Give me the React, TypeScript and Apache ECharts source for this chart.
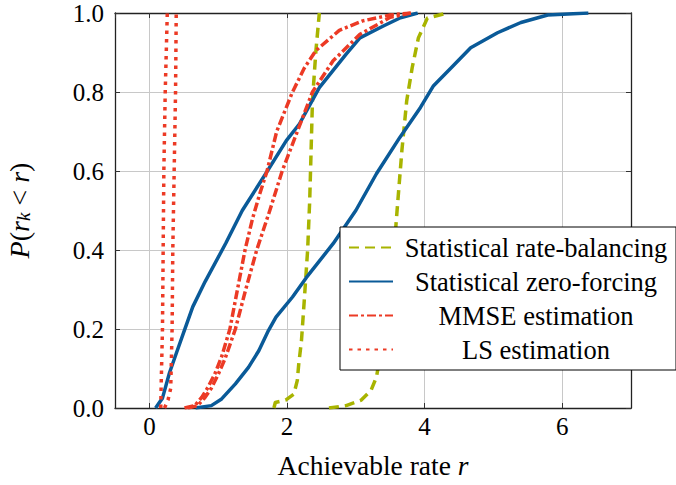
import React, { useEffect, useRef } from "react";
import * as echarts from "echarts";

// Statistical rate-balancing (two CDF curves)
const rbLow: number[][] = [
  [1.81, 0], [1.83, 0.014], [1.98, 0.02], [2.1, 0.035], [2.15, 0.07], [2.17, 0.11],
  [2.21, 0.17], [2.25, 0.27], [2.3, 0.4], [2.33, 0.525], [2.35, 0.65], [2.37, 0.778],
  [2.42, 0.904], [2.47, 1.0],
];
const rbHigh: number[][] = [
  [2.61, 0], [2.86, 0.006], [3.08, 0.02], [3.22, 0.044], [3.3, 0.078], [3.35, 0.128],
  [3.45, 0.22], [3.52, 0.32], [3.56, 0.41], [3.6, 0.5], [3.67, 0.652], [3.74, 0.778],
  [3.82, 0.862], [3.91, 0.937], [4.04, 0.987], [4.33, 1.0],
];
// Statistical zero-forcing
const zfLow: number[][] = [
  [0.09, 0], [0.19, 0.025], [0.29, 0.088], [0.39, 0.138], [0.51, 0.197], [0.63, 0.256],
  [0.81, 0.32], [1.11, 0.417], [1.35, 0.5], [1.69, 0.593], [1.99, 0.677], [2.18, 0.719],
  [2.47, 0.811], [2.86, 0.896], [3.06, 0.937], [3.4, 0.967], [3.65, 0.988], [3.9, 1.0],
];
const zfHigh: number[][] = [
  [0.67, 0], [0.9, 0.006], [1.05, 0.023], [1.25, 0.061], [1.44, 0.103], [1.59, 0.145],
  [1.73, 0.196], [1.84, 0.23], [2.08, 0.281], [2.28, 0.33], [2.67, 0.416], [3.0, 0.5],
  [3.3, 0.593], [3.64, 0.685], [3.94, 0.761], [4.13, 0.816], [4.38, 0.86], [4.67, 0.912],
  [5.06, 0.95], [5.4, 0.976], [5.79, 0.995], [6.38, 1.0],
];
// MMSE estimation
const mmseLow: number[][] = [
  [0.51, 0], [0.66, 0.006], [0.76, 0.027], [0.85, 0.052], [0.95, 0.086], [1.05, 0.13],
  [1.17, 0.2], [1.28, 0.3], [1.39, 0.4], [1.5, 0.48], [1.6, 0.54], [1.71, 0.6],
  [1.85, 0.7], [2.08, 0.8], [2.25, 0.86], [2.42, 0.905], [2.76, 0.956], [3.1, 0.98],
  [3.5, 0.995], [3.8, 1.0],
];
const mmseHigh: number[][] = [
  [0.56, 0], [0.7, 0.006], [0.8, 0.025], [0.9, 0.05], [1.0, 0.085], [1.1, 0.125],
  [1.25, 0.2], [1.4, 0.3], [1.56, 0.4], [1.75, 0.5], [1.93, 0.6], [2.15, 0.7],
  [2.37, 0.8], [2.67, 0.879], [3.06, 0.946], [3.5, 0.989], [3.8, 1.0],
];
// LS estimation
const lsLow: number[][] = [
  [0.165, 0], [0.17, 0.05], [0.19, 0.2], [0.2, 0.4], [0.21, 0.6], [0.23, 0.8], [0.26, 1.0],
];
const lsHigh: number[][] = [
  [0.22, 0], [0.27, 0.02], [0.31, 0.05], [0.33, 0.2], [0.34, 0.4], [0.36, 0.6], [0.38, 0.8], [0.39, 1.0],
];

const legendNames = [
  "Statistical rate-balancing",
  "Statistical zero-forcing",
  "MMSE estimation",
  "LS estimation",
];
const yTicks = [0, 0.2, 0.4, 0.6, 0.8, 1.0];

const FONT = "Liberation Serif, Times New Roman, Times, serif";
const GREEN = "#a8b400";
const BLUE = "#0a5a98";
const RED = "#ec3a25";

export default function App() {
  const ref = useRef<HTMLDivElement>(null);
  useEffect(() => {
    if (!ref.current) return;
    const chart = echarts.init(ref.current, null, { renderer: "svg" });
    const mk = (name: string, data: number[][], color: string, type: any) => ({
      name,
      type: "line",
      data,
      symbol: "none",
      showSymbol: false,
      xAxisIndex: 0,
      yAxisIndex: 0,
      itemStyle: { color },
      lineStyle: { color, width: 3.5, type, cap: "butt", join: "round" },
      emphasis: { disabled: true },
    });
    const dashed = [10, 6];
    const dashDot = [9, 3, 3, 3];
    const dotted = [3.5, 5];
    chart.setOption({
      animation: false,
      backgroundColor: "#fff",
      textStyle: { fontFamily: FONT },
      grid: { left: 115, right: 45, top: 13, bottom: 77, containLabel: false, outerBoundsMode: "none" },
      legend: {
        data: legendNames,
        orient: "vertical",
        left: 340,
        top: 227,
        padding: [7, 2, 7, 8],
        itemGap: 7,
        itemWidth: 44,
        itemHeight: 14,
        backgroundColor: "#fff",
        borderColor: "#000",
        borderWidth: 1,
        borderRadius: 0,
        selectedMode: false,
        z: 10,
        itemStyle: { color: "rgba(0,0,0,0)", borderColor: "rgba(0,0,0,0)", borderWidth: 0, opacity: 0 },
        formatter: (n: string) => `{c|${n}}`,
        textStyle: {
          fontFamily: FONT,
          rich: {
            c: {
              width: 276,
              align: "center",
              fontSize: 26.5,
              lineHeight: 26,
              fontFamily: FONT,
              color: "#000",
            },
          },
        },
      },
      xAxis: [
        {
          type: "value",
          min: -0.5,
          max: 7,
          splitNumber: 4,
          name: "Achievable rate {i|r}",
          nameLocation: "middle",
          nameGap: 43,
          nameTextStyle: {
            fontFamily: FONT,
            fontSize: 27.5,
            color: "#000",
            rich: { i: { fontStyle: "italic", fontFamily: FONT, fontSize: 27.5, color: "#000" } },
          },
          axisLine: { show: true, onZero: false, lineStyle: { color: "#222", width: 1.3 } },
          axisTick: { show: true, inside: true, length: 5, lineStyle: { color: "#333" } },
          axisLabel: {
            showMinLabel: false,
            showMaxLabel: false,
            margin: 6,
            fontFamily: FONT,
            fontSize: 25,
            lineHeight: 25,
            color: "#000",
          },
          splitLine: { show: true, lineStyle: { color: "#c8c8c8", width: 1 } },
        },
        {
          type: "value",
          position: "top",
          min: -0.5,
          max: 7,
          splitNumber: 4,
          axisLine: { show: true, onZero: false, lineStyle: { color: "#222", width: 1.3 } },
          axisTick: { show: true, inside: true, length: 5, lineStyle: { color: "#333" } },
          axisLabel: { show: false },
          splitLine: { show: false },
        },
      ],
      yAxis: [
        {
          type: "value",
          min: 0,
          max: 1,
          interval: 0.2,
          name: "{i|P}({i|r}{s|k} < {i|r})",
          nameLocation: "middle",
          nameRotate: 90,
          nameGap: 82,
          nameTextStyle: {
            fontFamily: FONT,
            fontSize: 28,
            color: "#000",
            rich: {
              i: { fontStyle: "italic", fontFamily: FONT, fontSize: 28, color: "#000", lineHeight: 28 },
              s: {
                fontStyle: "italic",
                fontFamily: FONT,
                fontSize: 19,
                color: "#000",
                lineHeight: 19,
                verticalAlign: "bottom",
              },
            },
          },
          axisLine: { show: true, onZero: false, lineStyle: { color: "#222", width: 1.3 } },
          axisTick: { show: true, inside: true, length: 5, lineStyle: { color: "#333" } },
          axisLabel: {
            margin: 11,
            fontFamily: FONT,
            fontSize: 25,
            lineHeight: 24,
            color: "#000",
            customValues: yTicks,
            formatter: (v: number) => v.toFixed(1),
          },
          splitLine: { show: true, lineStyle: { color: "#c8c8c8", width: 1 } },
        },
        {
          type: "value",
          position: "right",
          min: 0,
          max: 1,
          interval: 0.2,
          axisLine: { show: true, onZero: false, lineStyle: { color: "#222", width: 1.3 } },
          axisTick: { show: true, inside: true, length: 5, lineStyle: { color: "#333" } },
          axisLabel: { show: false },
          splitLine: { show: false },
        },
      ],
      series: [
        mk(legendNames[0], rbLow, GREEN, dashed),
        mk(legendNames[0], rbHigh, GREEN, dashed),
        mk(legendNames[1], zfLow, BLUE, "solid"),
        mk(legendNames[1], zfHigh, BLUE, "solid"),
        mk(legendNames[2], mmseLow, RED, dashDot),
        mk(legendNames[2], mmseHigh, RED, dashDot),
        mk(legendNames[3], lsLow, RED, dotted),
        mk(legendNames[3], lsHigh, RED, dotted),
      ],
    });
    return () => chart.dispose();
  }, []);
  return <div ref={ref} style={{ width: 676, height: 485, position: "absolute", left: 0, top: 0 }} />;
}
